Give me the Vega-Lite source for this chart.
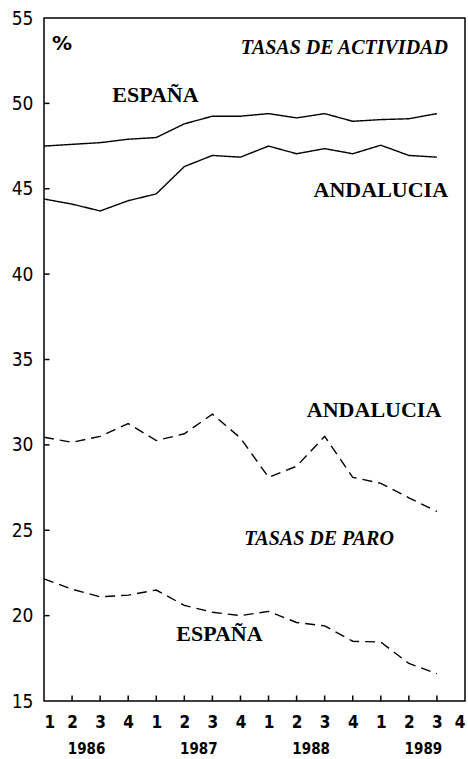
{
  "$schema": "https://vega.github.io/schema/vega-lite/v6.json",
  "width": 421,
  "height": 683,
  "autosize": {"type": "none"},
  "padding": {"left": 44, "top": 18, "right": 3, "bottom": 58},
  "background": "white",
  "config": {
    "view": {"stroke": "black", "strokeWidth": 1.5},
    "axis": {"grid": false, "domain": false, "labelColor": "black", "tickColor": "black", "labelFont": "DejaVu Sans Condensed", "labelFontWeight": "bold"}
  },
  "datasets": {
    "series": [
      {"serie": "ESPAÑA actividad", "tipo": "actividad", "t": 0, "tasa": 47.5},
      {"serie": "ESPAÑA actividad", "tipo": "actividad", "t": 1, "tasa": 47.6},
      {"serie": "ESPAÑA actividad", "tipo": "actividad", "t": 2, "tasa": 47.7},
      {"serie": "ESPAÑA actividad", "tipo": "actividad", "t": 3, "tasa": 47.9},
      {"serie": "ESPAÑA actividad", "tipo": "actividad", "t": 4, "tasa": 48.0},
      {"serie": "ESPAÑA actividad", "tipo": "actividad", "t": 5, "tasa": 48.8},
      {"serie": "ESPAÑA actividad", "tipo": "actividad", "t": 6, "tasa": 49.25},
      {"serie": "ESPAÑA actividad", "tipo": "actividad", "t": 7, "tasa": 49.25},
      {"serie": "ESPAÑA actividad", "tipo": "actividad", "t": 8, "tasa": 49.4},
      {"serie": "ESPAÑA actividad", "tipo": "actividad", "t": 9, "tasa": 49.15},
      {"serie": "ESPAÑA actividad", "tipo": "actividad", "t": 10, "tasa": 49.4},
      {"serie": "ESPAÑA actividad", "tipo": "actividad", "t": 11, "tasa": 48.95},
      {"serie": "ESPAÑA actividad", "tipo": "actividad", "t": 12, "tasa": 49.05},
      {"serie": "ESPAÑA actividad", "tipo": "actividad", "t": 13, "tasa": 49.1},
      {"serie": "ESPAÑA actividad", "tipo": "actividad", "t": 14, "tasa": 49.4},
      {"serie": "ANDALUCIA actividad", "tipo": "actividad", "t": 0, "tasa": 44.4},
      {"serie": "ANDALUCIA actividad", "tipo": "actividad", "t": 1, "tasa": 44.1},
      {"serie": "ANDALUCIA actividad", "tipo": "actividad", "t": 2, "tasa": 43.7},
      {"serie": "ANDALUCIA actividad", "tipo": "actividad", "t": 3, "tasa": 44.3},
      {"serie": "ANDALUCIA actividad", "tipo": "actividad", "t": 4, "tasa": 44.7},
      {"serie": "ANDALUCIA actividad", "tipo": "actividad", "t": 5, "tasa": 46.3},
      {"serie": "ANDALUCIA actividad", "tipo": "actividad", "t": 6, "tasa": 46.95},
      {"serie": "ANDALUCIA actividad", "tipo": "actividad", "t": 7, "tasa": 46.85},
      {"serie": "ANDALUCIA actividad", "tipo": "actividad", "t": 8, "tasa": 47.5},
      {"serie": "ANDALUCIA actividad", "tipo": "actividad", "t": 9, "tasa": 47.05},
      {"serie": "ANDALUCIA actividad", "tipo": "actividad", "t": 10, "tasa": 47.35},
      {"serie": "ANDALUCIA actividad", "tipo": "actividad", "t": 11, "tasa": 47.05},
      {"serie": "ANDALUCIA actividad", "tipo": "actividad", "t": 12, "tasa": 47.55},
      {"serie": "ANDALUCIA actividad", "tipo": "actividad", "t": 13, "tasa": 46.95},
      {"serie": "ANDALUCIA actividad", "tipo": "actividad", "t": 14, "tasa": 46.85},
      {"serie": "ANDALUCIA paro", "tipo": "paro", "t": 0, "tasa": 30.45},
      {"serie": "ANDALUCIA paro", "tipo": "paro", "t": 1, "tasa": 30.15},
      {"serie": "ANDALUCIA paro", "tipo": "paro", "t": 2, "tasa": 30.5},
      {"serie": "ANDALUCIA paro", "tipo": "paro", "t": 3, "tasa": 31.25},
      {"serie": "ANDALUCIA paro", "tipo": "paro", "t": 4, "tasa": 30.25},
      {"serie": "ANDALUCIA paro", "tipo": "paro", "t": 5, "tasa": 30.65},
      {"serie": "ANDALUCIA paro", "tipo": "paro", "t": 6, "tasa": 31.8},
      {"serie": "ANDALUCIA paro", "tipo": "paro", "t": 7, "tasa": 30.4},
      {"serie": "ANDALUCIA paro", "tipo": "paro", "t": 8, "tasa": 28.1},
      {"serie": "ANDALUCIA paro", "tipo": "paro", "t": 9, "tasa": 28.75},
      {"serie": "ANDALUCIA paro", "tipo": "paro", "t": 10, "tasa": 30.5},
      {"serie": "ANDALUCIA paro", "tipo": "paro", "t": 11, "tasa": 28.1},
      {"serie": "ANDALUCIA paro", "tipo": "paro", "t": 12, "tasa": 27.75},
      {"serie": "ANDALUCIA paro", "tipo": "paro", "t": 13, "tasa": 26.9},
      {"serie": "ANDALUCIA paro", "tipo": "paro", "t": 14, "tasa": 26.1},
      {"serie": "ESPAÑA paro", "tipo": "paro", "t": 0, "tasa": 22.15},
      {"serie": "ESPAÑA paro", "tipo": "paro", "t": 1, "tasa": 21.55},
      {"serie": "ESPAÑA paro", "tipo": "paro", "t": 2, "tasa": 21.1},
      {"serie": "ESPAÑA paro", "tipo": "paro", "t": 3, "tasa": 21.2},
      {"serie": "ESPAÑA paro", "tipo": "paro", "t": 4, "tasa": 21.5},
      {"serie": "ESPAÑA paro", "tipo": "paro", "t": 5, "tasa": 20.6},
      {"serie": "ESPAÑA paro", "tipo": "paro", "t": 6, "tasa": 20.2},
      {"serie": "ESPAÑA paro", "tipo": "paro", "t": 7, "tasa": 20.0},
      {"serie": "ESPAÑA paro", "tipo": "paro", "t": 8, "tasa": 20.25},
      {"serie": "ESPAÑA paro", "tipo": "paro", "t": 9, "tasa": 19.6},
      {"serie": "ESPAÑA paro", "tipo": "paro", "t": 10, "tasa": 19.4},
      {"serie": "ESPAÑA paro", "tipo": "paro", "t": 11, "tasa": 18.5},
      {"serie": "ESPAÑA paro", "tipo": "paro", "t": 12, "tasa": 18.45},
      {"serie": "ESPAÑA paro", "tipo": "paro", "t": 13, "tasa": 17.2},
      {"serie": "ESPAÑA paro", "tipo": "paro", "t": 14, "tasa": 16.6}
    ],
    "etiquetas": [
      {"texto": "ESPAÑA", "t": 3.97, "tasa": 50.5},
      {"texto": "ANDALUCIA", "t": 12.0, "tasa": 44.9},
      {"texto": "ANDALUCIA", "t": 11.76, "tasa": 32.07},
      {"texto": "ESPAÑA", "t": 6.25, "tasa": 18.9}
    ],
    "titulos": [
      {"texto": "TASAS DE ACTIVIDAD", "t": 10.7, "tasa": 53.27},
      {"texto": "TASAS DE PARO", "t": 9.8, "tasa": 24.47}
    ],
    "unidad": [
      {"texto": "%", "t": 0.64, "tasa": 53.45}
    ],
    "marcas_y": [
      {"tasa": 20}, {"tasa": 25}, {"tasa": 30}, {"tasa": 35}, {"tasa": 40}, {"tasa": 45}, {"tasa": 50}
    ],
    "marcas_x": [
      {"t": 1}, {"t": 2}, {"t": 3}, {"t": 4}, {"t": 5}, {"t": 6}, {"t": 7}, {"t": 8},
      {"t": 9}, {"t": 10}, {"t": 11}, {"t": 12}, {"t": 13}, {"t": 14}
    ]
  },
  "layer": [
    {
      "data": {"name": "series"},
      "mark": {"type": "line", "color": "black", "strokeWidth": 1.4},
      "encoding": {
        "x": {
          "field": "t", "type": "quantitative",
          "scale": {"domain": [0, 15], "nice": false, "zero": false},
          "axis": {
            "title": null, "orient": "bottom", "values": [0,1,2,3,4,5,6,7,8,9,10,11,12,13,14,15],
            "labelExpr": "(datum.value % 4) + 1",
            "ticks": false, "labelPadding": 13,
            "labelFontSize": 17
          }
        },
        "y": {
          "field": "tasa", "type": "quantitative",
          "scale": {"domain": [15, 55], "nice": false, "zero": false},
          "axis": {
            "title": null, "orient": "left", "values": [15,20,25,30,35,40,45,50,55],
            "ticks": false, "labelPadding": 11,
            "labelFontSize": 19, "labelFontWeight": "normal"
          }
        },
        "detail": {"field": "serie"},
        "strokeDash": {
          "field": "tipo", "type": "nominal",
          "scale": {"domain": ["actividad", "paro"], "range": [[1, 0], [10, 6]]},
          "legend": null
        }
      }
    },
    {
      "data": {"name": "marcas_y"},
      "mark": {"type": "tick", "orient": "horizontal", "color": "black", "thickness": 1.5, "size": 11, "clip": true, "opacity": 1},
      "encoding": {
        "x": {"datum": 0, "type": "quantitative", "axis": null},
        "y": {"field": "tasa", "type": "quantitative", "axis": null}
      }
    },
    {
      "data": {"name": "marcas_x"},
      "mark": {"type": "tick", "orient": "vertical", "color": "black", "thickness": 1.5, "size": 11, "clip": true, "opacity": 1},
      "encoding": {
        "x": {"field": "t", "type": "quantitative", "axis": null},
        "y": {"datum": 15, "type": "quantitative", "axis": null}
      }
    },
    {
      "data": {"name": "etiquetas"},
      "mark": {"type": "text", "font": "Liberation Serif", "fontWeight": "bold", "fontSize": 22, "color": "black"},
      "encoding": {
        "x": {
          "field": "t", "type": "quantitative",
          "axis": {
            "title": null, "orient": "bottom", "values": [1.5, 5.5, 9.5, 13.5],
            "labelExpr": "datum.value == 1.5 ? '1986' : datum.value == 5.5 ? '1987' : datum.value == 9.5 ? '1988' : '1989'",
            "ticks": false, "offset": 38, "labelPadding": 2, "labelFontSize": 15
          }
        },
        "y": {"field": "tasa", "type": "quantitative", "axis": null},
        "text": {"field": "texto"}
      }
    },
    {
      "data": {"name": "titulos"},
      "mark": {"type": "text", "font": "Liberation Serif", "fontWeight": "bold", "fontStyle": "italic", "fontSize": 20, "color": "black"},
      "encoding": {
        "x": {"field": "t", "type": "quantitative", "axis": null},
        "y": {"field": "tasa", "type": "quantitative", "axis": null},
        "text": {"field": "texto"}
      }
    },
    {
      "data": {"name": "unidad"},
      "mark": {"type": "text", "font": "DejaVu Sans", "fontWeight": "bold", "fontSize": 20, "color": "black"},
      "encoding": {
        "x": {"field": "t", "type": "quantitative", "axis": null},
        "y": {"field": "tasa", "type": "quantitative", "axis": null},
        "text": {"field": "texto"}
      }
    }
  ],
  "resolve": {"axis": {"x": "independent", "y": "independent"}}
}
